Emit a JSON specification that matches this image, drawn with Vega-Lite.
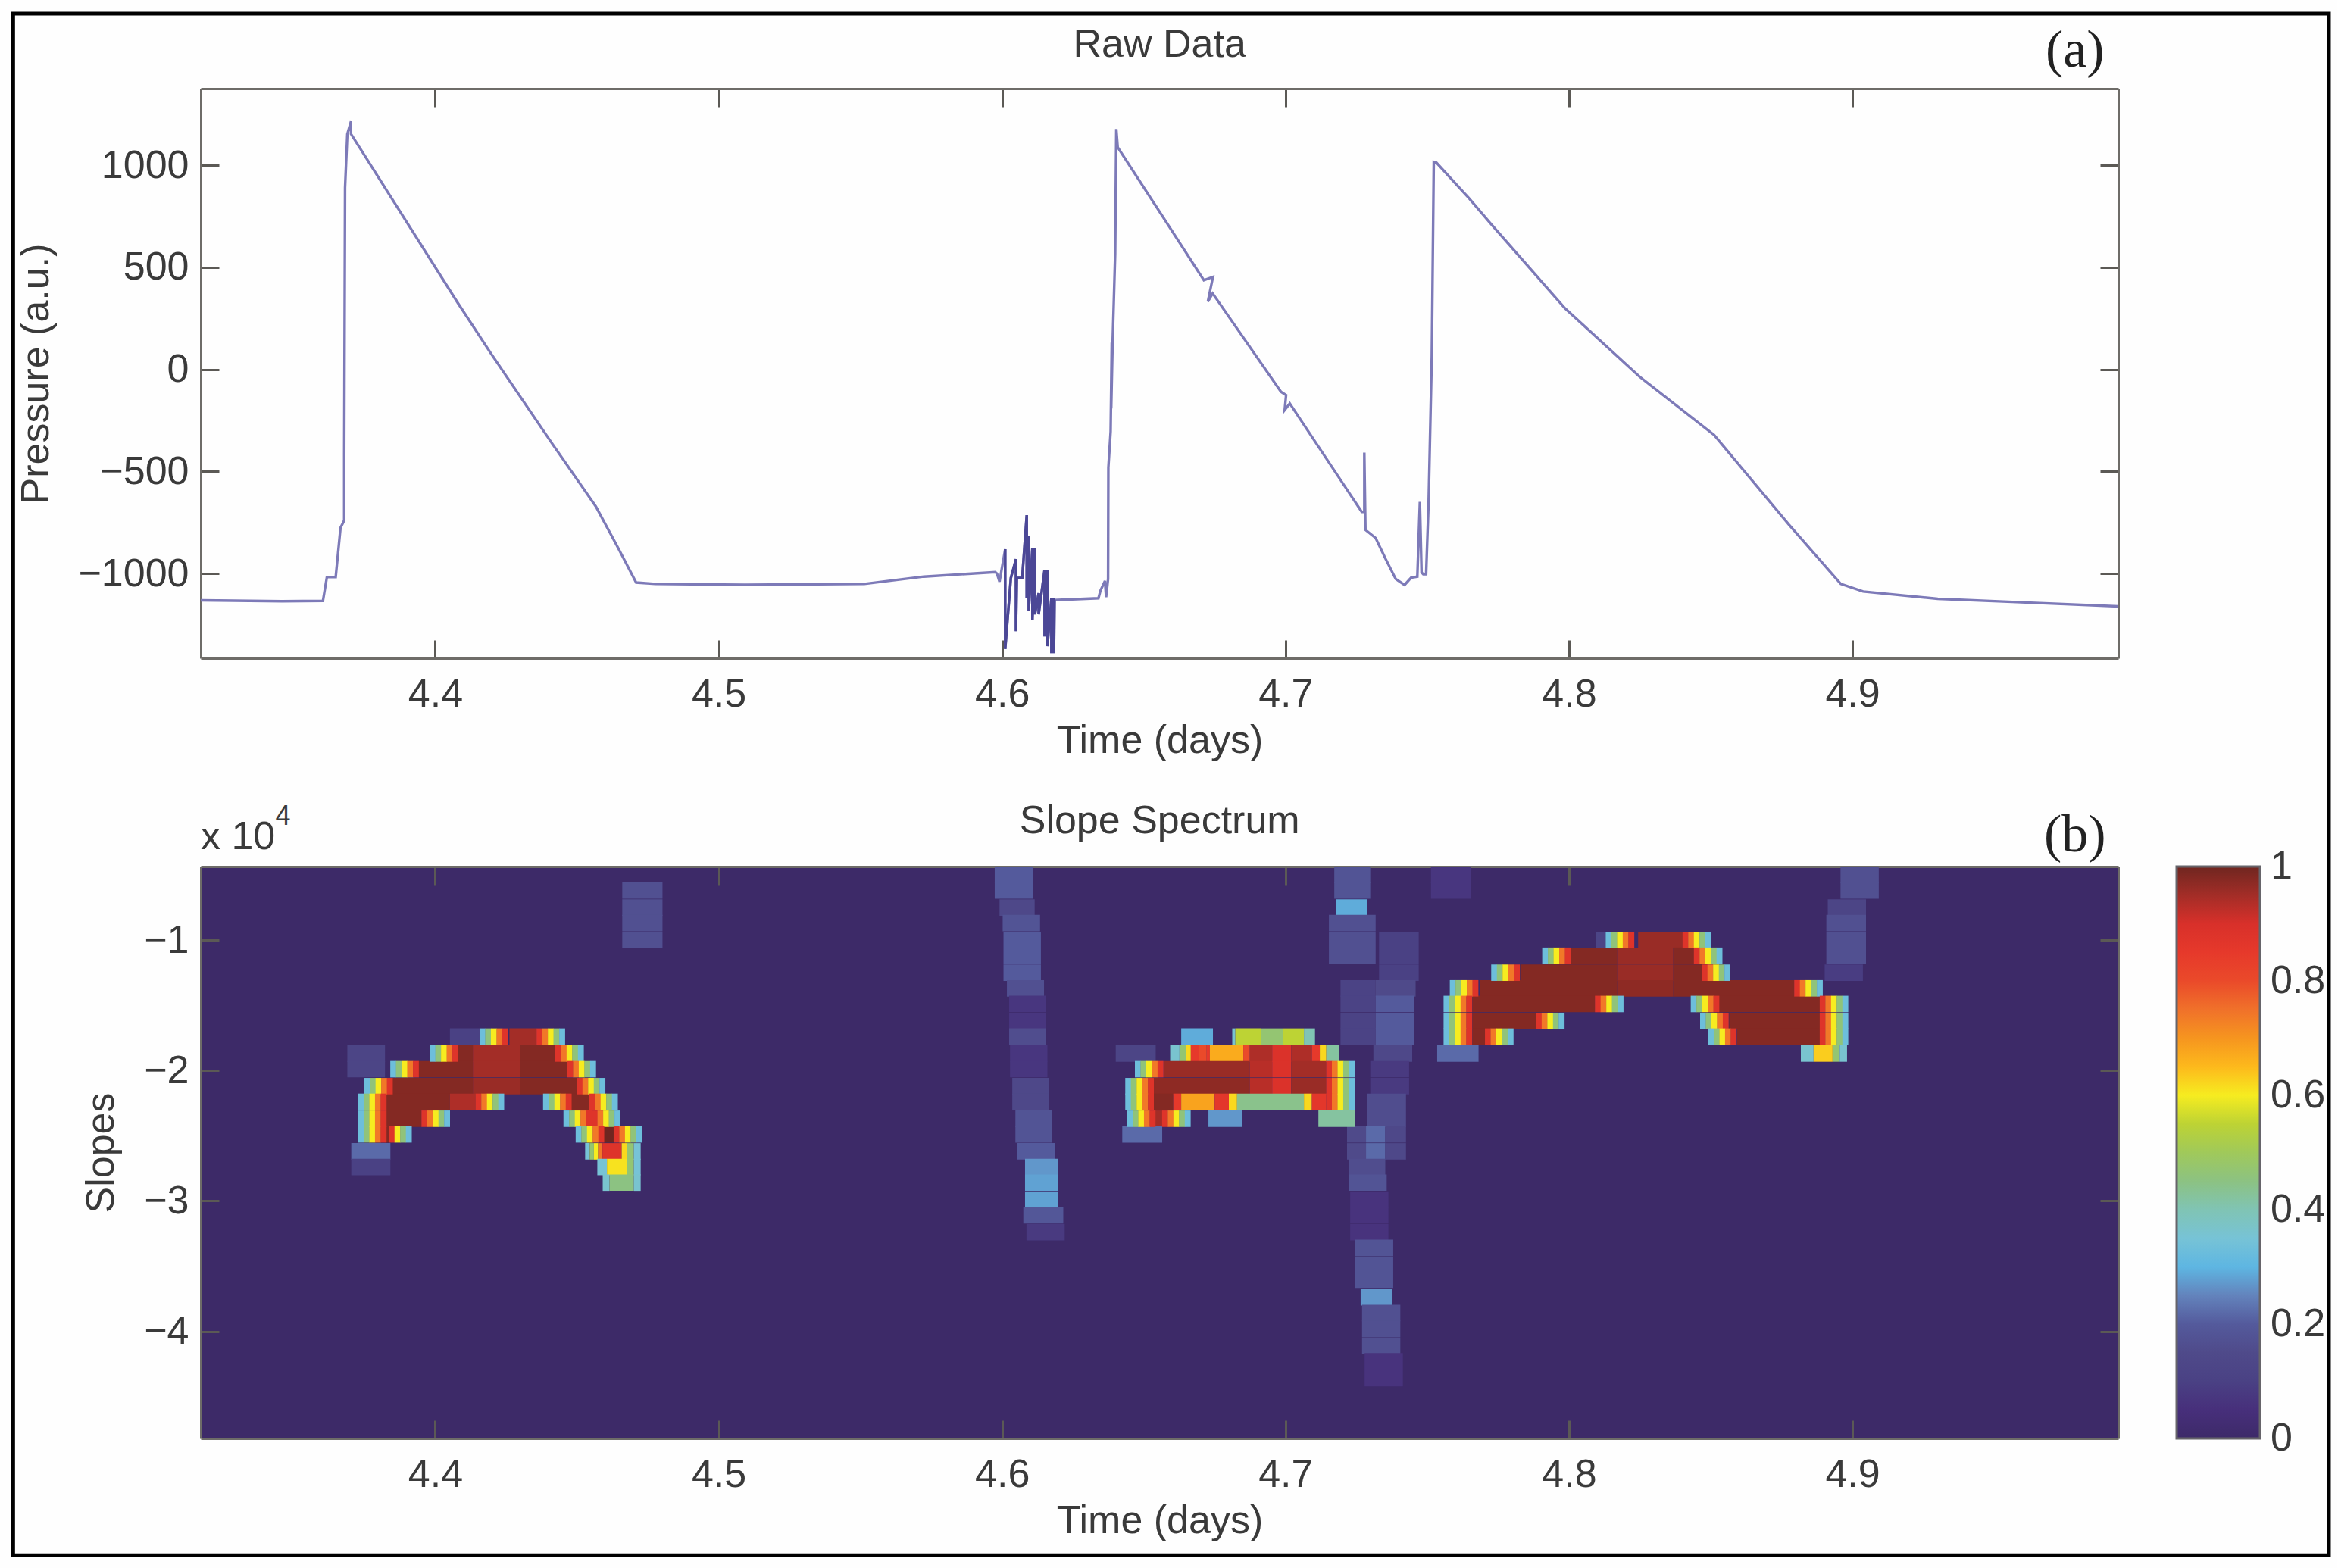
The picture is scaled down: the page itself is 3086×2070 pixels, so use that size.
{
"$schema":"https://vega.github.io/schema/vega-lite/v6.json",
"background":"#fefefe",
"padding":{"left":14,"top":15,"right":8,"bottom":14},
"bounds":"flush",
"spacing":275,
"config":{"font":"Liberation Sans","axis":{"domain":true,"domainColor":"#6e6c68","domainWidth":3,"tickColor":"#5b5955","tickWidth":3,"tickSize":-24,"grid":false,"labelFont":"Liberation Sans","labelFontSize":52,"labelColor":"#3a3a3a","titleFont":"Liberation Sans","titleFontSize":52,"titleFontWeight":"normal","titleColor":"#3a3a3a","labelOverlap":false,"labelFlush":false,"zindex":1},"view":{"stroke":null}},
"datasets":{
"frame":[{"t0":4.2511,"t1":5.0681,"p0":1742,"p1":-5809}],
"notesA":[{"t":4.9785,"p":1560,"label":"(a)"}],
"titleA":[{"t":4.6556,"p":1590,"label":"Raw Data"}],
"notesB":[{"t":4.9785,"s":-0.2,"label":"(b)"}],
"titleB":[{"t":4.6556,"s":-0.09,"label":"Slope Spectrum"}],
"notesC":[{"t":4.3173,"s":-0.305,"label":"x 10","size":"base"},{"t":4.3436,"s":-0.119,"label":"4","size":"sup"}],
"trace":[
{"t":4.3173,"p":-1131},{"t":4.346,"p":-1136},{"t":4.3604,"p":-1134},{"t":4.3618,"p":-1017},{"t":4.3649,"p":-1017},{"t":4.3666,"p":-776},{"t":4.3679,"p":-740},{"t":4.3679,"p":-417},{"t":4.3682,"p":889},{"t":4.369,"p":1152},{"t":4.3703,"p":1215},{"t":4.3703,"p":1153},{"t":4.408,"p":325},{"t":4.4199,"p":73},{"t":4.441,"p":-358},{"t":4.4567,"p":-672},{"t":4.4646,"p":-876},{"t":4.4709,"p":-1044},{"t":4.4777,"p":-1051},{"t":4.5093,"p":-1055},{"t":4.5514,"p":-1051},{"t":4.5724,"p":-1015},{"t":4.5976,"p":-993},{"t":4.5982,"p":-1000},{"t":4.5991,"p":-1040},{"t":4.6011,"p":-881},{"t":4.6011,"p":-1370},{"t":4.6031,"p":-1022},{"t":4.6049,"p":-930},{"t":4.6049,"p":-1282},{"t":4.6052,"p":-1022},{"t":4.6071,"p":-1022},{"t":4.6087,"p":-714},{"t":4.6087,"p":-1122},{"t":4.6094,"p":-818},{"t":4.6094,"p":-1185},{"t":4.6107,"p":-874},{"t":4.6107,"p":-1226},{"t":4.6116,"p":-874},{"t":4.6116,"p":-1200},{"t":4.6129,"p":-1096},{"t":4.6129,"p":-1200},{"t":4.615,"p":-982},{"t":4.615,"p":-1308},{"t":4.616,"p":-982},{"t":4.616,"p":-1356},{"t":4.6174,"p":-1122},{"t":4.6174,"p":-1390},{"t":4.6183,"p":-1122},{"t":4.6183,"p":-1390},{"t":4.6185,"p":-1130},{"t":4.634,"p":-1121},{"t":4.6347,"p":-1084},{"t":4.6363,"p":-1036},{"t":4.6367,"p":-1116},{"t":4.6374,"p":-1027},{"t":4.6375,"p":-481},{"t":4.6383,"p":-304},{"t":4.6387,"p":131},{"t":4.6385,"p":-191},{"t":4.639,"p":131},{"t":4.6399,"p":565},{"t":4.6403,"p":1177},{"t":4.6408,"p":1088},{"t":4.6712,"p":437},{"t":4.6744,"p":453},{"t":4.6726,"p":332},{"t":4.6743,"p":372},{"t":4.6984,"p":-110},{"t":4.7002,"p":-126},{"t":4.6997,"p":-199},{"t":4.7015,"p":-167},{"t":4.7269,"p":-698},{"t":4.7278,"p":-698},{"t":4.7278,"p":-408},{"t":4.7282,"p":-786},{"t":4.7318,"p":-826},{"t":4.7354,"p":-931},{"t":4.7389,"p":-1027},{"t":4.742,"p":-1056},{"t":4.7443,"p":-1020},{"t":4.7465,"p":-1015},{"t":4.7474,"p":-649},{"t":4.748,"p":-995},{"t":4.7486,"p":-1003},{"t":4.7496,"p":-1003},{"t":4.7505,"p":-641},{"t":4.7516,"p":66},{"t":4.7523,"p":1016},{"t":4.7532,"p":1013},{"t":4.7646,"p":840},{"t":4.7723,"p":715},{"t":4.7986,"p":299},{"t":4.8249,"p":-36},{"t":4.8512,"p":-321},{"t":4.8775,"p":-759},{"t":4.8959,"p":-1051},{"t":4.9038,"p":-1088},{"t":4.9301,"p":-1124},{"t":4.9564,"p":-1139},{"t":4.9938,"p":-1161}
],
"spans":[
{"t0":4.466,"t1":4.4802,"s":-0.62,"v":0.17},{"t0":4.466,"t1":4.4802,"s":-0.75,"v":0.17},{"t0":4.466,"t1":4.4802,"s":-0.87,"v":0.17},{"t0":4.466,"t1":4.4802,"s":-1.0,"v":0.17},
{"t0":4.369,"t1":4.3823,"s":-1.87,"v":0.12},{"t0":4.369,"t1":4.3823,"s":-1.99,"v":0.12},{"t0":4.4052,"t1":4.4157,"s":-1.74,"v":0.1},{"t0":4.3704,"t1":4.3842,"s":-2.62,"v":0.22},{"t0":4.3704,"t1":4.3842,"s":-2.74,"v":0.1},
{"t0":4.5974,"t1":4.6109,"s":-0.5,"v":0.2},{"t0":4.5974,"t1":4.6109,"s":-0.62,"v":0.2},{"t0":4.5991,"t1":4.6115,"s":-0.75,"v":0.14},{"t0":4.6002,"t1":4.6134,"s":-0.87,"v":0.18},{"t0":4.6005,"t1":4.6137,"s":-1.0,"v":0.2},{"t0":4.6005,"t1":4.6137,"s":-1.12,"v":0.2},{"t0":4.6005,"t1":4.6137,"s":-1.25,"v":0.2},{"t0":4.6017,"t1":4.6148,"s":-1.37,"v":0.17},{"t0":4.6025,"t1":4.6154,"s":-1.49,"v":0.07},{"t0":4.6025,"t1":4.6154,"s":-1.62,"v":0.07},{"t0":4.6025,"t1":4.6154,"s":-1.74,"v":0.16},{"t0":4.6028,"t1":4.616,"s":-1.87,"v":0.07},{"t0":4.6028,"t1":4.616,"s":-1.99,"v":0.07},{"t0":4.6036,"t1":4.6165,"s":-2.12,"v":0.14},{"t0":4.6036,"t1":4.6165,"s":-2.24,"v":0.14},{"t0":4.6047,"t1":4.6176,"s":-2.37,"v":0.18},{"t0":4.6047,"t1":4.6176,"s":-2.49,"v":0.18},{"t0":4.6053,"t1":4.6188,"s":-2.62,"v":0.2},{"t0":4.6081,"t1":4.6197,"s":-2.74,"v":0.27},{"t0":4.6081,"t1":4.6197,"s":-2.86,"v":0.28},{"t0":4.6081,"t1":4.6197,"s":-2.99,"v":0.28},{"t0":4.6075,"t1":4.6216,"s":-3.11,"v":0.19},{"t0":4.6086,"t1":4.6221,"s":-3.24,"v":0.08},
{"t0":4.7172,"t1":4.7299,"s":-0.5,"v":0.18},{"t0":4.7172,"t1":4.7299,"s":-0.62,"v":0.18},{"t0":4.7177,"t1":4.7288,"s":-0.75,"v":0.29},{"t0":4.7153,"t1":4.7318,"s":-0.87,"v":0.17},{"t0":4.7153,"t1":4.7318,"s":-1.0,"v":0.17},{"t0":4.7153,"t1":4.7318,"s":-1.12,"v":0.17},
{"t0":4.733,"t1":4.747,"s":-1.0,"v":0.1},{"t0":4.733,"t1":4.747,"s":-1.12,"v":0.1},{"t0":4.733,"t1":4.747,"s":-1.25,"v":0.1},{"t0":4.7194,"t1":4.7318,"s":-1.37,"v":0.11},{"t0":4.7318,"t1":4.7459,"s":-1.37,"v":0.15},{"t0":4.7194,"t1":4.7318,"s":-1.49,"v":0.11},{"t0":4.7318,"t1":4.7453,"s":-1.49,"v":0.2},{"t0":4.7194,"t1":4.7318,"s":-1.62,"v":0.11},{"t0":4.7318,"t1":4.7453,"s":-1.62,"v":0.2},{"t0":4.7194,"t1":4.7318,"s":-1.74,"v":0.11},{"t0":4.7318,"t1":4.7453,"s":-1.74,"v":0.2},{"t0":4.731,"t1":4.7447,"s":-1.87,"v":0.14},{"t0":4.7299,"t1":4.7436,"s":-1.99,"v":0.08},{"t0":4.7299,"t1":4.7436,"s":-2.12,"v":0.08},{"t0":4.7288,"t1":4.7425,"s":-2.24,"v":0.16},{"t0":4.7288,"t1":4.7425,"s":-2.37,"v":0.16},{"t0":4.7217,"t1":4.7284,"s":-2.49,"v":0.15},{"t0":4.7284,"t1":4.7352,"s":-2.49,"v":0.22},{"t0":4.7352,"t1":4.7425,"s":-2.49,"v":0.14},{"t0":4.7217,"t1":4.7284,"s":-2.62,"v":0.15},{"t0":4.7284,"t1":4.7352,"s":-2.62,"v":0.22},{"t0":4.7352,"t1":4.7425,"s":-2.62,"v":0.14},{"t0":4.7223,"t1":4.7352,"s":-2.74,"v":0.16},{"t0":4.7223,"t1":4.7357,"s":-2.86,"v":0.18},{"t0":4.7228,"t1":4.7363,"s":-2.99,"v":0.06},{"t0":4.7228,"t1":4.7363,"s":-3.11,"v":0.06},{"t0":4.7228,"t1":4.7363,"s":-3.24,"v":0.06},{"t0":4.7245,"t1":4.738,"s":-3.36,"v":0.18},{"t0":4.7245,"t1":4.738,"s":-3.49,"v":0.18},{"t0":4.7245,"t1":4.738,"s":-3.61,"v":0.18},{"t0":4.7265,"t1":4.7376,"s":-3.74,"v":0.27},{"t0":4.727,"t1":4.7405,"s":-3.86,"v":0.17},{"t0":4.727,"t1":4.7405,"s":-3.98,"v":0.17},{"t0":4.727,"t1":4.7405,"s":-4.11,"v":0.17},{"t0":4.7279,"t1":4.7414,"s":-4.23,"v":0.06},{"t0":4.7279,"t1":4.7414,"s":-4.36,"v":0.06},
{"t0":4.8958,"t1":4.9093,"s":-0.5,"v":0.17},{"t0":4.8958,"t1":4.9093,"s":-0.62,"v":0.17},{"t0":4.8913,"t1":4.9048,"s":-0.75,"v":0.12},{"t0":4.8908,"t1":4.9048,"s":-0.87,"v":0.17},{"t0":4.8908,"t1":4.9048,"s":-1.0,"v":0.17},{"t0":4.8908,"t1":4.9048,"s":-1.12,"v":0.17},{"t0":4.8902,"t1":4.9037,"s":-1.25,"v":0.09},{"t0":4.7513,"t1":4.7653,"s":-0.5,"v":0.07},{"t0":4.7513,"t1":4.7653,"s":-0.62,"v":0.07},
{"t0":4.4262,"t1":4.4358,"s":-1.74,"v":0.95},{"t0":4.4081,"t1":4.4133,"s":-1.87,"v":0.98},{"t0":4.4133,"t1":4.43,"s":-1.87,"v":0.95},{"t0":4.43,"t1":4.4424,"s":-1.87,"v":0.98},{"t0":4.394,"t1":4.4133,"s":-1.99,"v":0.98},{"t0":4.4133,"t1":4.43,"s":-1.99,"v":0.95},{"t0":4.43,"t1":4.4467,"s":-1.99,"v":0.98},{"t0":4.3847,"t1":4.4133,"s":-2.12,"v":0.98},{"t0":4.4133,"t1":4.43,"s":-2.12,"v":0.96},{"t0":4.43,"t1":4.45,"s":-2.12,"v":0.98},{"t0":4.3823,"t1":4.4052,"s":-2.24,"v":0.98},{"t0":4.4052,"t1":4.4143,"s":-2.24,"v":0.94},{"t0":4.4477,"t1":4.4544,"s":-2.24,"v":0.98},{"t0":4.3823,"t1":4.3952,"s":-2.37,"v":0.98},{"t0":4.4591,"t1":4.463,"s":-2.49,"v":1},{"t0":4.3823,"t1":4.3837,"s":-2.49,"v":0.98},
{"t0":4.4529,"t1":4.4545,"s":-2.62,"v":0.35},{"t0":4.4545,"t1":4.456,"s":-2.62,"v":0.47},{"t0":4.456,"t1":4.4575,"s":-2.62,"v":0.6},{"t0":4.4575,"t1":4.459,"s":-2.62,"v":0.74},{"t0":4.459,"t1":4.4658,"s":-2.62,"v":0.88},{"t0":4.4658,"t1":4.4677,"s":-2.62,"v":0.62},{"t0":4.4677,"t1":4.4701,"s":-2.62,"v":0.47},{"t0":4.4701,"t1":4.4725,"s":-2.62,"v":0.35},
{"t0":4.4572,"t1":4.4606,"s":-2.74,"v":0.35},{"t0":4.4606,"t1":4.4677,"s":-2.74,"v":0.61},{"t0":4.4677,"t1":4.4701,"s":-2.74,"v":0.47},{"t0":4.4701,"t1":4.4725,"s":-2.74,"v":0.35},{"t0":4.4591,"t1":4.4615,"s":-2.86,"v":0.36},{"t0":4.4615,"t1":4.4701,"s":-2.86,"v":0.45},{"t0":4.4701,"t1":4.4725,"s":-2.86,"v":0.36},
{"t0":4.6632,"t1":4.6744,"s":-1.74,"v":0.29},{"t0":4.6812,"t1":4.6823,"s":-1.74,"v":0.36},{"t0":4.6823,"t1":4.6913,"s":-1.74,"v":0.55},{"t0":4.6913,"t1":4.6992,"s":-1.74,"v":0.47},{"t0":4.6992,"t1":4.7065,"s":-1.74,"v":0.55},{"t0":4.7065,"t1":4.7104,"s":-1.74,"v":0.4},
{"t0":4.6401,"t1":4.6542,"s":-1.87,"v":0.12},{"t0":4.6593,"t1":4.6626,"s":-1.87,"v":0.36},{"t0":4.6626,"t1":4.6649,"s":-1.87,"v":0.47},{"t0":4.6649,"t1":4.6666,"s":-1.87,"v":0.62},{"t0":4.6666,"t1":4.6694,"s":-1.87,"v":0.85},{"t0":4.6694,"t1":4.6722,"s":-1.87,"v":0.8},{"t0":4.6722,"t1":4.6733,"s":-1.87,"v":0.85},{"t0":4.6733,"t1":4.6851,"s":-1.87,"v":0.67},{"t0":4.6851,"t1":4.6874,"s":-1.87,"v":0.8},{"t0":4.6874,"t1":4.6953,"s":-1.87,"v":0.94},{"t0":4.6953,"t1":4.702,"s":-1.87,"v":0.89},{"t0":4.702,"t1":4.7093,"s":-1.87,"v":0.94},{"t0":4.7093,"t1":4.7121,"s":-1.87,"v":0.85},{"t0":4.7121,"t1":4.7144,"s":-1.87,"v":0.62},{"t0":4.7144,"t1":4.7189,"s":-1.87,"v":0.42},
{"t0":4.657,"t1":4.6874,"s":-1.99,"v":0.96},{"t0":4.6874,"t1":4.6953,"s":-1.99,"v":0.93},{"t0":4.6953,"t1":4.702,"s":-1.99,"v":0.89},{"t0":4.702,"t1":4.7144,"s":-1.99,"v":0.95},{"t0":4.6531,"t1":4.6874,"s":-2.12,"v":0.97},{"t0":4.6874,"t1":4.6953,"s":-2.12,"v":0.93},{"t0":4.6953,"t1":4.702,"s":-2.12,"v":0.89},{"t0":4.702,"t1":4.7144,"s":-2.12,"v":0.96},
{"t0":4.6531,"t1":4.6604,"s":-2.24,"v":0.98},{"t0":4.6604,"t1":4.6632,"s":-2.24,"v":0.85},{"t0":4.6632,"t1":4.675,"s":-2.24,"v":0.68},{"t0":4.675,"t1":4.68,"s":-2.24,"v":0.86},{"t0":4.68,"t1":4.6829,"s":-2.24,"v":0.62},{"t0":4.6829,"t1":4.7065,"s":-2.24,"v":0.44},{"t0":4.7065,"t1":4.7093,"s":-2.24,"v":0.62},{"t0":4.7093,"t1":4.7144,"s":-2.24,"v":0.86},
{"t0":4.6536,"t1":4.6565,"s":-2.37,"v":0.95},{"t0":4.6728,"t1":4.6846,"s":-2.37,"v":0.27},{"t0":4.7116,"t1":4.7245,"s":-2.37,"v":0.42},{"t0":4.6424,"t1":4.6565,"s":-2.49,"v":0.22},
{"t0":4.8094,"t1":4.813,"s":-1.0,"v":0.12},{"t0":4.8244,"t1":4.8401,"s":-1.0,"v":0.96},{"t0":4.8008,"t1":4.817,"s":-1.12,"v":0.98},{"t0":4.817,"t1":4.8368,"s":-1.12,"v":0.96},{"t0":4.8368,"t1":4.8441,"s":-1.12,"v":0.98},{"t0":4.7828,"t1":4.817,"s":-1.25,"v":0.98},{"t0":4.817,"t1":4.8368,"s":-1.25,"v":0.96},{"t0":4.8368,"t1":4.8469,"s":-1.25,"v":0.98},{"t0":4.7687,"t1":4.817,"s":-1.37,"v":0.98},{"t0":4.817,"t1":4.8368,"s":-1.37,"v":0.97},{"t0":4.8368,"t1":4.8795,"s":-1.37,"v":0.98},{"t0":4.7659,"t1":4.8092,"s":-1.49,"v":0.98},{"t0":4.8525,"t1":4.8885,"s":-1.49,"v":0.98},{"t0":4.7659,"t1":4.7884,"s":-1.62,"v":0.98},{"t0":4.8565,"t1":4.8885,"s":-1.62,"v":0.98},{"t0":4.7659,"t1":4.7704,"s":-1.74,"v":0.98},{"t0":4.8593,"t1":4.8885,"s":-1.74,"v":0.98},
{"t0":4.7535,"t1":4.7681,"s":-1.87,"v":0.22},{"t0":4.8818,"t1":4.8863,"s":-1.87,"v":0.36},{"t0":4.8863,"t1":4.893,"s":-1.87,"v":0.63},{"t0":4.893,"t1":4.8955,"s":-1.87,"v":0.47},{"t0":4.8955,"t1":4.8981,"s":-1.87,"v":0.36}
],
"cells":[
{"t":4.4167,"s":-1.74,"v":0.33},{"t":4.4187,"s":-1.74,"v":0.46},{"t":4.4207,"s":-1.74,"v":0.6},{"t":4.4227,"s":-1.74,"v":0.74},{"t":4.4247,"s":-1.74,"v":0.88},{"t":4.4368,"s":-1.74,"v":0.88},{"t":4.4388,"s":-1.74,"v":0.74},{"t":4.4408,"s":-1.74,"v":0.6},{"t":4.4428,"s":-1.74,"v":0.46},{"t":4.4448,"s":-1.74,"v":0.33},
{"t":4.3991,"s":-1.87,"v":0.33},{"t":4.4011,"s":-1.87,"v":0.46},{"t":4.4031,"s":-1.87,"v":0.6},{"t":4.4051,"s":-1.87,"v":0.74},{"t":4.4071,"s":-1.87,"v":0.88},{"t":4.4434,"s":-1.87,"v":0.88},{"t":4.4454,"s":-1.87,"v":0.74},{"t":4.4474,"s":-1.87,"v":0.6},{"t":4.4494,"s":-1.87,"v":0.46},{"t":4.4514,"s":-1.87,"v":0.33},
{"t":4.3852,"s":-1.99,"v":0.33},{"t":4.3872,"s":-1.99,"v":0.46},{"t":4.3892,"s":-1.99,"v":0.6},{"t":4.3912,"s":-1.99,"v":0.74},{"t":4.3932,"s":-1.99,"v":0.88},{"t":4.4477,"s":-1.99,"v":0.88},{"t":4.4497,"s":-1.99,"v":0.74},{"t":4.4517,"s":-1.99,"v":0.6},{"t":4.4537,"s":-1.99,"v":0.46},{"t":4.4557,"s":-1.99,"v":0.33},
{"t":4.376,"s":-2.12,"v":0.33},{"t":4.378,"s":-2.12,"v":0.46},{"t":4.38,"s":-2.12,"v":0.6},{"t":4.382,"s":-2.12,"v":0.74},{"t":4.384,"s":-2.12,"v":0.88},{"t":4.451,"s":-2.12,"v":0.88},{"t":4.453,"s":-2.12,"v":0.74},{"t":4.455,"s":-2.12,"v":0.6},{"t":4.457,"s":-2.12,"v":0.46},{"t":4.459,"s":-2.12,"v":0.33},
{"t":4.3738,"s":-2.24,"v":0.33},{"t":4.3758,"s":-2.24,"v":0.46},{"t":4.3778,"s":-2.24,"v":0.6},{"t":4.3798,"s":-2.24,"v":0.74},{"t":4.3818,"s":-2.24,"v":0.88},{"t":4.4153,"s":-2.24,"v":0.88},{"t":4.4173,"s":-2.24,"v":0.74},{"t":4.4193,"s":-2.24,"v":0.6},{"t":4.4213,"s":-2.24,"v":0.46},{"t":4.4233,"s":-2.24,"v":0.33},{"t":4.4391,"s":-2.24,"v":0.33},{"t":4.4411,"s":-2.24,"v":0.46},{"t":4.4431,"s":-2.24,"v":0.6},{"t":4.4451,"s":-2.24,"v":0.74},{"t":4.4471,"s":-2.24,"v":0.88},{"t":4.4554,"s":-2.24,"v":0.88},{"t":4.4574,"s":-2.24,"v":0.74},{"t":4.4594,"s":-2.24,"v":0.6},{"t":4.4614,"s":-2.24,"v":0.46},{"t":4.4634,"s":-2.24,"v":0.33},
{"t":4.3738,"s":-2.37,"v":0.33},{"t":4.3758,"s":-2.37,"v":0.46},{"t":4.3778,"s":-2.37,"v":0.6},{"t":4.3798,"s":-2.37,"v":0.74},{"t":4.3818,"s":-2.37,"v":0.88},{"t":4.3962,"s":-2.37,"v":0.88},{"t":4.3982,"s":-2.37,"v":0.74},{"t":4.4002,"s":-2.37,"v":0.6},{"t":4.4022,"s":-2.37,"v":0.46},{"t":4.4042,"s":-2.37,"v":0.33},{"t":4.4463,"s":-2.37,"v":0.33},{"t":4.4483,"s":-2.37,"v":0.46},{"t":4.4503,"s":-2.37,"v":0.6},{"t":4.4523,"s":-2.37,"v":0.74},{"t":4.4543,"s":-2.37,"v":0.88},{"t":4.4563,"s":-2.37,"v":0.88},{"t":4.4583,"s":-2.37,"v":0.74},{"t":4.4603,"s":-2.37,"v":0.6},{"t":4.4623,"s":-2.37,"v":0.46},{"t":4.4643,"s":-2.37,"v":0.33},
{"t":4.3738,"s":-2.49,"v":0.33},{"t":4.3758,"s":-2.49,"v":0.46},{"t":4.3778,"s":-2.49,"v":0.6},{"t":4.3798,"s":-2.49,"v":0.74},{"t":4.3818,"s":-2.49,"v":0.88},{"t":4.3847,"s":-2.49,"v":0.88},{"t":4.3867,"s":-2.49,"v":0.6},{"t":4.3887,"s":-2.49,"v":0.46},{"t":4.3907,"s":-2.49,"v":0.33},{"t":4.4506,"s":-2.49,"v":0.33},{"t":4.4526,"s":-2.49,"v":0.46},{"t":4.4546,"s":-2.49,"v":0.6},{"t":4.4566,"s":-2.49,"v":0.74},{"t":4.4586,"s":-2.49,"v":0.88},{"t":4.464,"s":-2.49,"v":0.88},{"t":4.466,"s":-2.49,"v":0.74},{"t":4.468,"s":-2.49,"v":0.6},{"t":4.47,"s":-2.49,"v":0.46},{"t":4.472,"s":-2.49,"v":0.33},
{"t":4.6479,"s":-1.99,"v":0.33},{"t":4.6499,"s":-1.99,"v":0.46},{"t":4.6519,"s":-1.99,"v":0.6},{"t":4.6539,"s":-1.99,"v":0.74},{"t":4.6559,"s":-1.99,"v":0.88},{"t":4.7154,"s":-1.99,"v":0.88},{"t":4.7174,"s":-1.99,"v":0.74},{"t":4.7194,"s":-1.99,"v":0.6},{"t":4.7214,"s":-1.99,"v":0.46},{"t":4.7234,"s":-1.99,"v":0.33},
{"t":4.6445,"s":-2.12,"v":0.33},{"t":4.6465,"s":-2.12,"v":0.46},{"t":4.6485,"s":-2.12,"v":0.6},{"t":4.6505,"s":-2.12,"v":0.74},{"t":4.6525,"s":-2.12,"v":0.88},{"t":4.7154,"s":-2.12,"v":0.88},{"t":4.7174,"s":-2.12,"v":0.74},{"t":4.7194,"s":-2.12,"v":0.6},{"t":4.7214,"s":-2.12,"v":0.46},{"t":4.7234,"s":-2.12,"v":0.33},
{"t":4.6445,"s":-2.24,"v":0.33},{"t":4.6465,"s":-2.24,"v":0.46},{"t":4.6485,"s":-2.24,"v":0.6},{"t":4.6505,"s":-2.24,"v":0.74},{"t":4.6525,"s":-2.24,"v":0.88},{"t":4.7154,"s":-2.24,"v":0.88},{"t":4.7174,"s":-2.24,"v":0.74},{"t":4.7194,"s":-2.24,"v":0.6},{"t":4.7214,"s":-2.24,"v":0.46},{"t":4.7234,"s":-2.24,"v":0.33},
{"t":4.6451,"s":-2.37,"v":0.33},{"t":4.6471,"s":-2.37,"v":0.46},{"t":4.6491,"s":-2.37,"v":0.6},{"t":4.6511,"s":-2.37,"v":0.74},{"t":4.6531,"s":-2.37,"v":0.88},{"t":4.6575,"s":-2.37,"v":0.88},{"t":4.6595,"s":-2.37,"v":0.74},{"t":4.6615,"s":-2.37,"v":0.6},{"t":4.6635,"s":-2.37,"v":0.46},{"t":4.6655,"s":-2.37,"v":0.33},
{"t":4.814,"s":-1.0,"v":0.33},{"t":4.816,"s":-1.0,"v":0.46},{"t":4.818,"s":-1.0,"v":0.6},{"t":4.82,"s":-1.0,"v":0.74},{"t":4.822,"s":-1.0,"v":0.88},{"t":4.8411,"s":-1.0,"v":0.88},{"t":4.8431,"s":-1.0,"v":0.74},{"t":4.8451,"s":-1.0,"v":0.6},{"t":4.8471,"s":-1.0,"v":0.46},{"t":4.8491,"s":-1.0,"v":0.33},
{"t":4.7916,"s":-1.12,"v":0.33},{"t":4.7936,"s":-1.12,"v":0.46},{"t":4.7956,"s":-1.12,"v":0.6},{"t":4.7976,"s":-1.12,"v":0.74},{"t":4.7996,"s":-1.12,"v":0.88},{"t":4.8451,"s":-1.12,"v":0.88},{"t":4.8471,"s":-1.12,"v":0.74},{"t":4.8491,"s":-1.12,"v":0.6},{"t":4.8511,"s":-1.12,"v":0.46},{"t":4.8531,"s":-1.12,"v":0.33},
{"t":4.7736,"s":-1.25,"v":0.33},{"t":4.7756,"s":-1.25,"v":0.46},{"t":4.7776,"s":-1.25,"v":0.6},{"t":4.7796,"s":-1.25,"v":0.74},{"t":4.7816,"s":-1.25,"v":0.88},{"t":4.8479,"s":-1.25,"v":0.88},{"t":4.8499,"s":-1.25,"v":0.74},{"t":4.8519,"s":-1.25,"v":0.6},{"t":4.8539,"s":-1.25,"v":0.46},{"t":4.8559,"s":-1.25,"v":0.33},
{"t":4.759,"s":-1.37,"v":0.33},{"t":4.761,"s":-1.37,"v":0.46},{"t":4.763,"s":-1.37,"v":0.6},{"t":4.765,"s":-1.37,"v":0.74},{"t":4.767,"s":-1.37,"v":0.88},{"t":4.8805,"s":-1.37,"v":0.88},{"t":4.8825,"s":-1.37,"v":0.74},{"t":4.8845,"s":-1.37,"v":0.6},{"t":4.8865,"s":-1.37,"v":0.46},{"t":4.8885,"s":-1.37,"v":0.33},
{"t":4.7568,"s":-1.49,"v":0.33},{"t":4.7588,"s":-1.49,"v":0.46},{"t":4.7608,"s":-1.49,"v":0.6},{"t":4.7628,"s":-1.49,"v":0.74},{"t":4.7648,"s":-1.49,"v":0.88},{"t":4.8102,"s":-1.49,"v":0.88},{"t":4.8122,"s":-1.49,"v":0.74},{"t":4.8142,"s":-1.49,"v":0.6},{"t":4.8162,"s":-1.49,"v":0.46},{"t":4.8182,"s":-1.49,"v":0.33},{"t":4.844,"s":-1.49,"v":0.33},{"t":4.846,"s":-1.49,"v":0.46},{"t":4.848,"s":-1.49,"v":0.6},{"t":4.85,"s":-1.49,"v":0.74},{"t":4.852,"s":-1.49,"v":0.88},{"t":4.8895,"s":-1.49,"v":0.88},{"t":4.8915,"s":-1.49,"v":0.74},{"t":4.8935,"s":-1.49,"v":0.6},{"t":4.8955,"s":-1.49,"v":0.46},{"t":4.8975,"s":-1.49,"v":0.33},
{"t":4.7568,"s":-1.62,"v":0.33},{"t":4.7588,"s":-1.62,"v":0.46},{"t":4.7608,"s":-1.62,"v":0.6},{"t":4.7628,"s":-1.62,"v":0.74},{"t":4.7648,"s":-1.62,"v":0.88},{"t":4.7894,"s":-1.62,"v":0.88},{"t":4.7914,"s":-1.62,"v":0.74},{"t":4.7934,"s":-1.62,"v":0.6},{"t":4.7954,"s":-1.62,"v":0.46},{"t":4.7974,"s":-1.62,"v":0.33},{"t":4.8473,"s":-1.62,"v":0.33},{"t":4.8493,"s":-1.62,"v":0.46},{"t":4.8513,"s":-1.62,"v":0.6},{"t":4.8533,"s":-1.62,"v":0.74},{"t":4.8553,"s":-1.62,"v":0.88},{"t":4.8895,"s":-1.62,"v":0.88},{"t":4.8915,"s":-1.62,"v":0.74},{"t":4.8935,"s":-1.62,"v":0.6},{"t":4.8955,"s":-1.62,"v":0.46},{"t":4.8975,"s":-1.62,"v":0.33},
{"t":4.7568,"s":-1.74,"v":0.33},{"t":4.7588,"s":-1.74,"v":0.46},{"t":4.7608,"s":-1.74,"v":0.6},{"t":4.7628,"s":-1.74,"v":0.74},{"t":4.7648,"s":-1.74,"v":0.88},{"t":4.7714,"s":-1.74,"v":0.88},{"t":4.7734,"s":-1.74,"v":0.74},{"t":4.7754,"s":-1.74,"v":0.6},{"t":4.7774,"s":-1.74,"v":0.46},{"t":4.7794,"s":-1.74,"v":0.33},{"t":4.8501,"s":-1.74,"v":0.33},{"t":4.8521,"s":-1.74,"v":0.46},{"t":4.8541,"s":-1.74,"v":0.6},{"t":4.8561,"s":-1.74,"v":0.74},{"t":4.8581,"s":-1.74,"v":0.88},{"t":4.8895,"s":-1.74,"v":0.88},{"t":4.8915,"s":-1.74,"v":0.74},{"t":4.8935,"s":-1.74,"v":0.6},{"t":4.8955,"s":-1.74,"v":0.46},{"t":4.8975,"s":-1.74,"v":0.33}
]
},
"vconcat":[
{"width":2531,"height":752,
"layer":[
{"data":{"name":"frame"},"mark":{"type":"rect","fill":"transparent","stroke":"#000000","strokeWidth":5,"clip":false},
"encoding":{"x":{"field":"t0","type":"quantitative","scale":{"domain":[4.3173,4.9938],"nice":false,"zero":false},"axis":{"orient":"bottom","values":[4.4,4.5,4.6,4.7,4.8,4.9],"format":".1f","title":"Time (days)","labelPadding":46,"titlePadding":10}},"x2":{"field":"t1"},"y":{"field":"p0","type":"quantitative","scale":{"domain":[-1415,1375],"nice":false,"zero":false},"axis":{"orient":"left","values":[-1000,-500,0,500,1000],"format":"d","title":"Pressure (a.u.)","labelPadding":40,"titlePadding":28}},"y2":{"field":"p1"}}},
{"data":{"name":"trace"},"mark":{"type":"line","stroke":"#7d7ab8","strokeWidth":3.4},
"encoding":{"x":{"field":"t","type":"quantitative","scale":{"domain":[4.3173,4.9938],"nice":false,"zero":false},"axis":null},"y":{"field":"p","type":"quantitative","scale":{"domain":[-1415,1375],"nice":false,"zero":false},"axis":null},"order":{"value":null}}},
{"data":{"name":"trace"},"transform":[{"filter":"datum.t>4.6 && datum.t<4.619"}],"mark":{"type":"line","stroke":"#4b4796","strokeWidth":3.4},
"encoding":{"x":{"field":"t","type":"quantitative","scale":{"domain":[4.3173,4.9938],"nice":false,"zero":false},"axis":null},"y":{"field":"p","type":"quantitative","scale":{"domain":[-1415,1375],"nice":false,"zero":false},"axis":null},"order":{"value":null}}},
{"data":{"name":"titleA"},"mark":{"type":"text","font":"Liberation Sans","fontSize":52,"color":"#3a3a3a","align":"center","baseline":"middle"},
"encoding":{"x":{"field":"t","type":"quantitative","scale":{"domain":[4.3173,4.9938],"nice":false,"zero":false},"axis":null},"y":{"field":"p","type":"quantitative","scale":{"domain":[-1415,1375],"nice":false,"zero":false},"axis":null},"text":{"field":"label"}}},
{"data":{"name":"notesA"},"mark":{"type":"text","font":"Liberation Serif","fontSize":70,"color":"#222222","align":"center","baseline":"middle"},
"encoding":{"x":{"field":"t","type":"quantitative","scale":{"domain":[4.3173,4.9938],"nice":false,"zero":false},"axis":{"orient":"top","values":[4.4,4.5,4.6,4.7,4.8,4.9],"labels":false,"title":null}},"y":{"field":"p","type":"quantitative","scale":{"domain":[-1415,1375],"nice":false,"zero":false},"axis":{"orient":"right","values":[-1000,-500,0,500,1000],"labels":false,"title":null}},"text":{"field":"label"}}}
],
"resolve":{"axis":{"x":"independent","y":"independent"}}
},
{"width":2531,"height":755,
"view":{"fill":"#3d2a68"},
"layer":[
{"data":{"name":"spans"},"mark":{"type":"rect","height":21.7},
"encoding":{"x":{"field":"t0","type":"quantitative","scale":{"domain":[4.3173,4.9938],"nice":false,"zero":false},"axis":{"orient":"bottom","values":[4.4,4.5,4.6,4.7,4.8,4.9],"format":".1f","title":"Time (days)","labelPadding":46,"titlePadding":10}},"x2":{"field":"t1"},"y":{"field":"s","type":"quantitative","scale":{"domain":[-4.822,-0.436],"nice":false,"zero":false},"axis":{"orient":"left","values":[-1,-2,-3,-4],"format":"d","title":"Slopes","labelPadding":40,"titlePadding":29}},
"color":{"field":"v","type":"quantitative","scale":{"domain":[0,0.05,0.1,0.15,0.2,0.25,0.3,0.35,0.4,0.45,0.5,0.55,0.6,0.65,0.7,0.75,0.8,0.85,0.9,0.95,1],"range":["#3d2a68","#472f7b","#4a4184","#4f4a8a","#545a9c","#6383bc","#5eb6e2","#77c3d6","#80c4b4","#8cc282","#a0c95a","#bdd334","#f6ec20","#fdb91c","#f6951f","#f0712a","#ea4a2a","#e6392b","#d8302a","#a32d27","#6f2620"],"interpolate":"rgb"},
"legend":{"orient":"none","legendX":2608,"legendY":1027,"direction":"vertical","title":null,"gradientLength":755,"gradientThickness":110,"gradientStrokeColor":"#66646a","gradientStrokeWidth":3,"values":[0,0.2,0.4,0.6,0.8,1],"format":"~g","labelFontSize":52,"labelFont":"Liberation Sans","labelColor":"#3a3a3a","labelOffset":14,"encoding":{"labels":{"baseline":{"value":"middle"}}}}}}},
{"data":{"name":"cells"},"mark":{"type":"rect","width":7.8,"height":21.7},
"encoding":{"x":{"field":"t","type":"quantitative","scale":{"domain":[4.3173,4.9938],"nice":false,"zero":false},"axis":null},"y":{"field":"s","type":"quantitative","scale":{"domain":[-4.822,-0.436],"nice":false,"zero":false},"axis":null},"color":{"field":"v","type":"quantitative"}}},
{"data":{"name":"titleB"},"mark":{"type":"text","font":"Liberation Sans","fontSize":52,"color":"#3a3a3a","align":"center","baseline":"middle"},
"encoding":{"x":{"field":"t","type":"quantitative","scale":{"domain":[4.3173,4.9938],"nice":false,"zero":false},"axis":null},"y":{"field":"s","type":"quantitative","scale":{"domain":[-4.822,-0.436],"nice":false,"zero":false},"axis":null},"text":{"field":"label"}}},
{"data":{"name":"notesB"},"mark":{"type":"text","font":"Liberation Serif","fontSize":70,"color":"#222222","align":"center","baseline":"middle"},
"encoding":{"x":{"field":"t","type":"quantitative","scale":{"domain":[4.3173,4.9938],"nice":false,"zero":false},"axis":{"orient":"top","values":[4.4,4.5,4.6,4.7,4.8,4.9],"labels":false,"title":null}},"y":{"field":"s","type":"quantitative","scale":{"domain":[-4.822,-0.436],"nice":false,"zero":false},"axis":{"orient":"right","values":[-1,-2,-3,-4],"labels":false,"title":null}},"text":{"field":"label"}}},
{"data":{"name":"notesC"},"mark":{"type":"text","align":"left","baseline":"alphabetic","color":"#3a3a3a","font":"Liberation Sans"},
"encoding":{"x":{"field":"t","type":"quantitative","scale":{"domain":[4.3173,4.9938],"nice":false,"zero":false},"axis":null},"y":{"field":"s","type":"quantitative","scale":{"domain":[-4.822,-0.436],"nice":false,"zero":false},"axis":null},"text":{"field":"label"},"size":{"field":"size","type":"nominal","scale":{"domain":["base","sup"],"range":[52,36]},"legend":null}}}
],
"resolve":{"axis":{"x":"independent","y":"independent"}}
}
]
}
